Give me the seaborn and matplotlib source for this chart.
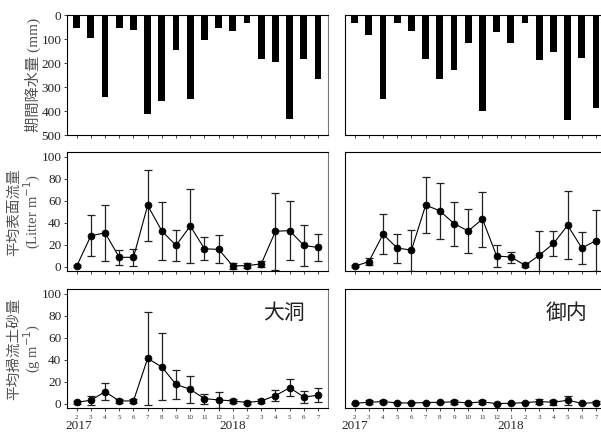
import matplotlib
matplotlib.use('Agg')
import matplotlib.pyplot as plt
import matplotlib.transforms as mtrans
import seaborn as sns
import pandas as pd

# 月 (2017/2 - 2018/7)
months = [2, 3, 4, 5, 6, 7, 8, 9, 10, 11, 12, 1, 2, 3, 4, 5, 6, 7]
idx = list(range(len(months)))

# 期間降水量 (mm)
rain_odo = [54, 97, 343, 56, 61, 412, 357, 145, 352, 106, 56, 67, 33, 184, 195, 433, 184, 267]
rain_mi = [33, 82, 350, 32, 67, 184, 267, 228, 117, 402, 70, 117, 32, 189, 156, 437, 181, 389]

# 平均表面流量 (Litter m-1)
flow_odo = [0.6, 28.3, 31, 8.7, 8.7, 55.9, 32.7, 19.5, 37.2, 16.5, 15.9, 0.9, 1.2, 2.7, 32.4, 33, 19.5, 17.7]
flow_odo_err = [1, 18.5, 25.7, 7, 8, 32.5, 26, 13.7, 34, 10.5, 12.7, 2.5, 2.5, 2.5, 35, 26.5, 18.5, 12.3]
flow_mi = [0.6, 4.8, 29.7, 17.1, 15.3, 56.2, 51, 39.3, 32.7, 43.5, 9.9, 9, 1.5, 10.5, 21.3, 37.8, 17.1, 24]
flow_mi_err = [1, 3, 18.3, 13.2, 18.6, 25.4, 25.7, 20, 20, 25, 10.2, 5, 2, 22, 11, 31, 14.5, 28]

# 平均掃流土砂量 (g m-1)
sed_odo = [1.5, 3.3, 11.1, 2.7, 2.7, 41.4, 33.6, 17.7, 13.2, 4.8, 3.6, 2.7, 1.2, 2.7, 7.5, 14.7, 6.3, 7.8]
sed_odo_err = [1.5, 4.3, 7.5, 1.8, 1.8, 42, 30.5, 13.5, 12, 4.5, 7.2, 1.5, 1, 1.8, 5, 7.8, 5.5, 6.3]
sed_mi = [0.6, 1.5, 2.1, 0.9, 0.9, 1.2, 1.5, 1.8, 0.9, 1.8, 0.3, 0.6, 1.2, 2.1, 1.5, 3.3, 0.6, 1.2]
sed_mi_err = [0.5, 2, 1, 0.5, 0.5, 0.5, 0.5, 2, 1, 2, 0.3, 0.5, 0.5, 2, 2.5, 4, 0.5, 1.5]

sites = ['大洞', '御内']
years = ['2017', '2018']

sns.set_theme(style='ticks')
plt.rcParams['font.family'] = ['Liberation Serif', 'Noto Sans CJK JP', 'DejaVu Sans']

fig = plt.figure(figsize=(6.01, 4.32), dpi=100)

W, H = 601.0, 432.0
cols = [67, 345]
rows = [(15, 135), (152, 271.3), (289, 408.3)]
pw = 261


def make_ax(c, r):
    x0 = cols[c] / W
    top, bot = rows[r]
    return fig.add_axes([x0, 1 - bot / H, pw / W, (bot - top) / H])


def style_ax(ax, left, bottom_labels):
    ax.set_xlim(-0.68, 17.7)
    ax.set_xticks(idx)
    if bottom_labels:
        ax.set_xticklabels([str(m) for m in months], fontsize=5, color='#333333')
    else:
        ax.set_xticklabels([])
    ax.tick_params(axis='x', direction='out', length=2.5, width=0.6, pad=2.5)
    ax.tick_params(axis='y', direction='out', length=2.5, width=0.6, pad=1.5,
                   labelsize=9.5, labelcolor='#222222')
    if not left:
        ax.tick_params(axis='y', left=False, labelleft=False)
    for s in ax.spines.values():
        s.set_color('black')
        s.set_linewidth(0.8)
    ax.spines['right'].set_color('#777777')
    ax.set_xlabel('')
    ax.set_ylabel('')


def bar_panel(ax, vals, left):
    df = pd.DataFrame({'idx': idx, 'v': vals})
    sns.barplot(data=df, x='idx', y='v', color='black', width=0.48,
                saturation=1, edgecolor='black', linewidth=0, ax=ax)
    style_ax(ax, left, False)
    ax.set_ylim(500, 0)
    ax.set_yticks([0, 100, 200, 300, 400, 500])


def err_panel(ax, vals, err, left, bottom_labels):
    ax.errorbar(idx, vals, yerr=err, fmt='none', ecolor='#222222',
                elinewidth=0.9, capsize=3, capthick=0.9, zorder=1)
    sns.lineplot(x=idx, y=vals, color='black', lw=0.8, marker='o', ms=5,
                 mec='black', mew=0.5, ax=ax, zorder=2)
    style_ax(ax, left, bottom_labels)
    ax.set_ylim(-4, 104.5)
    ax.set_yticks([0, 20, 40, 60, 80, 100])


rain = [rain_odo, rain_mi]
flow = [(flow_odo, flow_odo_err), (flow_mi, flow_mi_err)]
sed = [(sed_odo, sed_odo_err), (sed_mi, sed_mi_err)]

lab_col = '#555555'
for c in range(2):
    left = c == 0
    ax1 = make_ax(c, 0)
    bar_panel(ax1, rain[c], left)
    ax2 = make_ax(c, 1)
    err_panel(ax2, flow[c][0], flow[c][1], left, False)
    ax3 = make_ax(c, 2)
    err_panel(ax3, sed[c][0], sed[c][1], left, True)

    if left:
        ax1.set_ylabel('期間降水量 (mm)', fontsize=11, color=lab_col, va='center')
        ax1.yaxis.set_label_coords(-0.130, 0.5)
        ax2.set_ylabel('平均表面流量\n(Litter m$^{-1}$)', fontsize=10.5, color=lab_col,
                       va='center', linespacing=1.1)
        ax2.yaxis.set_label_coords(-0.16, 0.5)
        ax3.set_ylabel('平均掃流土砂量\n(g m$^{-1}$)', fontsize=10.5, color=lab_col,
                       va='center', linespacing=1.1)
        ax3.yaxis.set_label_coords(-0.16, 0.5)

    xr = 0.912 if left else 0.927
    ax3.text(xr, 0.795, sites[c], transform=ax3.transAxes, ha='right', va='center',
             fontsize=15, family=['Noto Sans CJK JP'], color='#222222')

    trans = mtrans.blended_transform_factory(ax3.transData, fig.transFigure)
    ax3.text(0.15 if left else 0.0, 0.006, years[0], transform=trans,
             ha='center', va='baseline', fontsize=9.5)
    ax3.text(11, 0.006, years[1], transform=trans, ha='center', va='baseline',
             fontsize=9.5)

fig.savefig('out.png', dpi=100)
